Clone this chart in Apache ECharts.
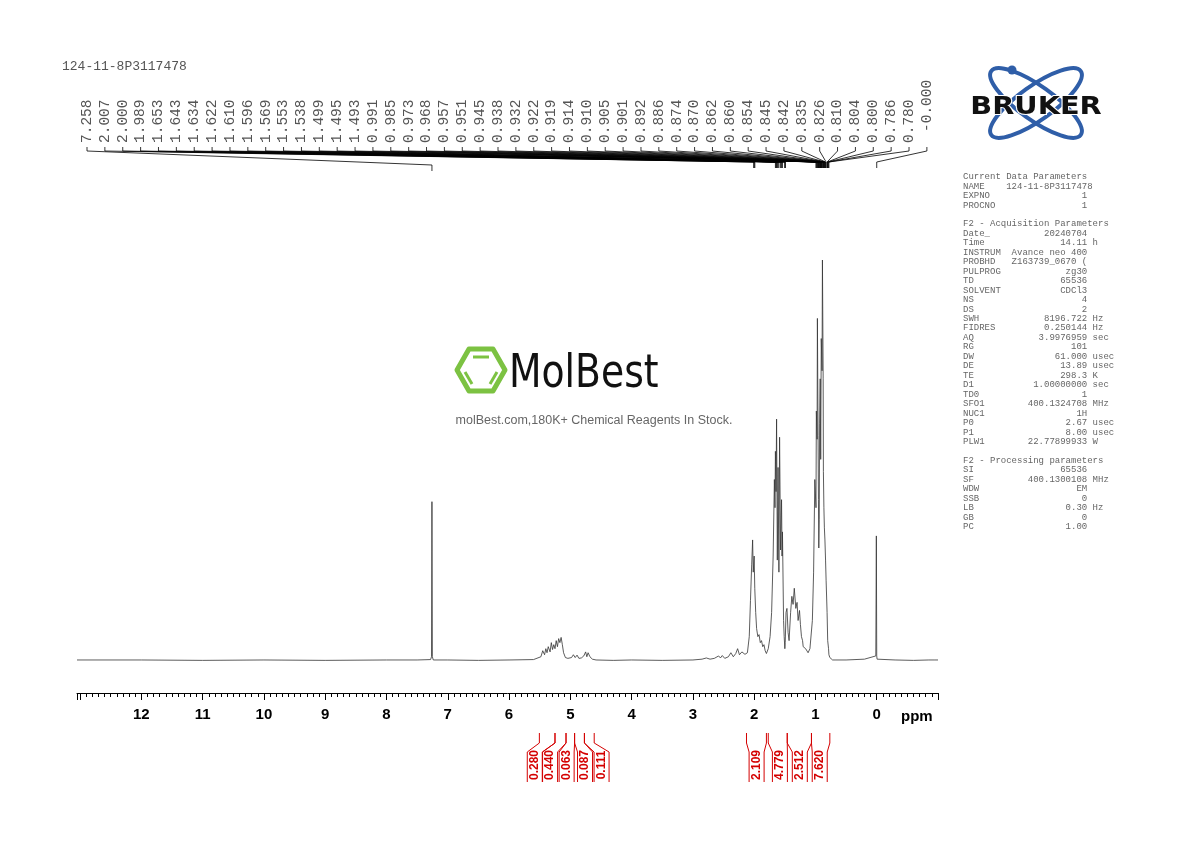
<!DOCTYPE html>
<html>
<head>
<meta charset="utf-8">
<script src="https://cdn.jsdelivr.net/npm/echarts@6/dist/echarts.min.js"></script>
<style>
  html, body { margin: 0; padding: 0; background: #fff; }
  #chart { width: 1190px; height: 842px; }
</style>
</head>
<body>
<div id="chart"></div>
<script>
// spectrum (ppm, relative intensity)
const shiftPpm = [
  13.05, 12.0, 11.0, 10.0, 9.0, 8.0, 7.5, 7.28, 7.265, 7.258, 7.251, 7.236, 7.0, 6.5, 6.0, 5.6,
  5.48, 5.45, 5.42, 5.40, 5.38, 5.36, 5.33, 5.31, 5.29, 5.27, 5.25, 5.23, 5.21, 5.19, 5.17, 5.15, 5.13, 5.11, 5.08, 5.04,
  4.98, 4.95, 4.92, 4.89, 4.86, 4.82, 4.78, 4.75, 4.73, 4.71, 4.68, 4.64, 4.58, 4.3, 4.0, 3.5, 3.0,
  2.85, 2.78, 2.72, 2.65, 2.58, 2.55, 2.52, 2.48, 2.42, 2.38, 2.34, 2.30, 2.27, 2.24, 2.20, 2.15, 2.11,
  2.08, 2.06, 2.04, 2.025, 2.015, 2.00, 1.99, 1.975, 1.96, 1.94, 1.92, 1.90, 1.88, 1.86, 1.84, 1.82, 1.80,
  1.77, 1.74, 1.715, 1.69, 1.67, 1.66, 1.653, 1.643, 1.634, 1.622, 1.61, 1.596, 1.585, 1.569, 1.553, 1.545, 1.538, 1.52, 1.51, 1.499, 1.493, 1.48,
  1.465, 1.446, 1.43, 1.405, 1.385, 1.365, 1.345, 1.32, 1.30, 1.283, 1.26, 1.245, 1.228, 1.21, 1.20, 1.16, 1.12, 1.09,
  1.05, 1.03, 1.01, 0.991, 0.985, 0.973, 0.968, 0.957, 0.951, 0.945, 0.938, 0.932, 0.922, 0.914, 0.905, 0.892, 0.886, 0.874, 0.870,
  0.862, 0.854, 0.845, 0.835, 0.826, 0.81, 0.80, 0.786, 0.78, 0.765, 0.74, 0.72, 0.68, 0.5, 0.2, 0.015, 0.006, 0.0, -0.006, -0.015,
  -0.3, -0.6, -0.85, -0.95, -1.0
];
const intensity = [
  0.002, 0.002, 0.001, 0.002, 0.001, 0.002, 0.002, 0.003, 0.01, 0.395, 0.01, 0.002, 0.002, 0.001, 0.002, 0.003,
  0.01, 0.025, 0.015, 0.03, 0.02, 0.035, 0.022, 0.045, 0.028, 0.04, 0.03, 0.05, 0.035, 0.055, 0.045, 0.058, 0.04, 0.02, 0.008, 0.006,
  0.008, 0.015, 0.008, 0.014, 0.006, 0.007, 0.012, 0.022, 0.01, 0.02, 0.01, 0.004, 0.002, 0.001, 0.002, 0.001, 0.002,
  0.004, 0.007, 0.004, 0.006, 0.012, 0.007, 0.013, 0.006, 0.01, 0.02, 0.01, 0.018, 0.03, 0.015, 0.022, 0.016, 0.02,
  0.06, 0.15, 0.24, 0.30, 0.22, 0.26, 0.18, 0.12, 0.08, 0.06, 0.065, 0.045, 0.05, 0.035, 0.04, 0.025, 0.018,
  0.03, 0.06, 0.12, 0.26, 0.45, 0.38, 0.52, 0.42, 0.60, 0.25, 0.48, 0.22, 0.555, 0.275, 0.40, 0.26, 0.32, 0.10, 0.06, 0.03, 0.045,
  0.12, 0.13, 0.07, 0.05, 0.12, 0.16, 0.14, 0.18, 0.13, 0.145, 0.10, 0.125, 0.09, 0.06, 0.05, 0.035, 0.03, 0.02,
  0.03, 0.10, 0.22, 0.45, 0.38, 0.62, 0.55, 0.85, 0.56, 0.40, 0.28, 0.35, 0.59, 0.70, 0.50, 0.80, 0.72, 0.995, 0.70,
  0.47, 0.38, 0.33, 0.30, 0.25, 0.20, 0.12, 0.05, 0.03, 0.015, 0.008, 0.004, 0.002, 0.002, 0.002, 0.004, 0.012, 0.31, 0.012, 0.004,
  0.002, 0.002, 0.001, 0.002, 0.002, 0.002
];

// peak picking labels
const peakLabels = [
  '7.258', '2.007', '2.000', '1.989', '1.653', '1.643', '1.634', '1.622', '1.610', '1.596', '1.569', '1.553',
  '1.538', '1.499', '1.495', '1.493', '0.991', '0.985', '0.973', '0.968', '0.957', '0.951', '0.945', '0.938',
  '0.932', '0.922', '0.919', '0.914', '0.910', '0.905', '0.901', '0.892', '0.886', '0.874', '0.870', '0.862',
  '0.860', '0.854', '0.845', '0.842', '0.835', '0.826', '0.810', '0.804', '0.800', '0.786', '0.780', '0.000'
];

// integrals: region start/end (ppm), label centre (ppm), value
const integralStart = [5.505, 5.25, 5.07, 4.93, 4.77, 2.125, 1.77, 1.46, 1.065];
const integralEnd = [5.25, 5.07, 4.93, 4.77, 4.61, 1.80, 1.46, 1.065, 0.765];
const integralLabelAt = [5.58, 5.33, 5.06, 4.76, 4.49, 1.96, 1.58, 1.255, 0.93];
const integralValues = ['0.280', '0.440', '0.063', '0.087', '0.111', '2.109', '4.779', '2.512', '7.620'];

const params = [
  ['Current Data Parameters', '', ''],
  ['NAME', '124-11-8P3117478', ''],
  ['EXPNO', '1', ''],
  ['PROCNO', '1', ''],
  ['', '', ''],
  ['F2 - Acquisition Parameters', '', ''],
  ['Date_', '20240704', ''],
  ['Time', '14.11', 'h'],
  ['INSTRUM', 'Avance neo 400', ''],
  ['PROBHD', 'Z163739_0670 (', ''],
  ['PULPROG', 'zg30', ''],
  ['TD', '65536', ''],
  ['SOLVENT', 'CDCl3', ''],
  ['NS', '4', ''],
  ['DS', '2', ''],
  ['SWH', '8196.722', 'Hz'],
  ['FIDRES', '0.250144', 'Hz'],
  ['AQ', '3.9976959', 'sec'],
  ['RG', '101', ''],
  ['DW', '61.000', 'usec'],
  ['DE', '13.89', 'usec'],
  ['TE', '298.3', 'K'],
  ['D1', '1.00000000', 'sec'],
  ['TD0', '1', ''],
  ['SFO1', '400.1324708', 'MHz'],
  ['NUC1', '1H', ''],
  ['P0', '2.67', 'usec'],
  ['P1', '8.00', 'usec'],
  ['PLW1', '22.77899933', 'W'],
  ['', '', ''],
  ['F2 - Processing parameters', '', ''],
  ['SI', '65536', ''],
  ['SF', '400.1300108', 'MHz'],
  ['WDW', 'EM', ''],
  ['SSB', '0', ''],
  ['LB', '0.30', 'Hz'],
  ['GB', '0', ''],
  ['PC', '1.00', '']
];

const spectrum = shiftPpm.map((p, i) => [p, intensity[i]]);
const peakPpm = peakLabels.map(s => parseFloat(s));
const paramText = params.map(([k, v, u]) => {
  if (!v) return k;
  return (k.padEnd(8) + v.padStart(15)) + (u ? ' ' + u : '');
}).join('\n');

const chart = echarts.init(document.getElementById('chart'));
const blue = '#2f5ea8';

const option = {
  animation: false,
  grid: { left: 77, right: 252, top: 258, bottom: 149 },
  xAxis: {
    type: 'value', inverse: true, min: -1, max: 13.05, interval: 1,
    splitLine: { show: false },
    axisLine: { onZero: false, lineStyle: { color: '#000', width: 1 } },
    axisTick: { length: 7, lineStyle: { color: '#000' } },
    minorTick: { show: true, splitNumber: 10, length: 4, lineStyle: { color: '#000' } },
    axisLabel: {
      color: '#000', fontWeight: 'bold', fontSize: 15, fontFamily: 'Liberation Sans, Arial', margin: 14,
      formatter: v => (v >= 0 && v <= 12 ? String(v) : '')
    }
  },
  yAxis: { type: 'value', min: -0.08, max: 1, show: false },
  series: [
    {
      type: 'line', data: spectrum, showSymbol: false, silent: true, clip: false,
      lineStyle: { color: '#333', width: 0.8 }
    },
    {
      // peak labels with their connecting lines
      type: 'custom', clip: false, silent: true,
      data: peakPpm.map((p, i) => [p, i]),
      renderItem: (params, api) => {
        const i = api.value(1);
        const px = api.coord([api.value(0), 0])[0];
        const lx = 87 + i * 17.87;
        const isZero = peakLabels[i] === '0.000';
        const endY = i === 0 ? 168 : 165;
        return {
          type: 'group',
          children: [
            {
              type: 'polyline',
              shape: { points: [[lx, 147], [lx, 151], [px, endY - 3], [px, endY + 3]] },
              style: { stroke: '#000', lineWidth: 0.8, fill: null }
            },
            {
              type: 'text', x: lx, y: isZero ? 132 : 143, rotation: Math.PI / 2,
              style: {
                text: isZero ? '-0.000' : peakLabels[i], align: 'left', verticalAlign: 'middle',
                fontFamily: 'Liberation Mono, DejaVu Sans Mono, monospace', fontSize: 14.5, fill: '#555'
              }
            }
          ]
        };
      }
    },
    {
      // integral brackets
      type: 'custom', clip: false, silent: true,
      data: integralValues.map((v, i) => [integralStart[i], integralEnd[i], integralLabelAt[i]]),
      renderItem: (params, api) => {
        const i = params.dataIndex;
        const x1 = api.coord([api.value(0), 0])[0];
        const x2 = api.coord([api.value(1), 0])[0];
        const xc = api.coord([api.value(2), 0])[0];
        const lw = 7.5;
        const st = { stroke: '#d40000', lineWidth: 1, fill: null };
        return {
          type: 'group',
          children: [
            { type: 'polyline', shape: { points: [[x1, 733], [x1, 743], [xc - lw, 752], [xc - lw, 782]] }, style: st },
            { type: 'polyline', shape: { points: [[x2, 733], [x2, 743], [xc + lw, 752], [xc + lw, 782]] }, style: st },
            {
              type: 'text', x: xc, y: 765, rotation: Math.PI / 2,
              style: {
                text: integralValues[i], align: 'center', verticalAlign: 'middle',
                fontFamily: 'Liberation Sans, Arial', fontWeight: 'bold', fontSize: 12, fill: '#d40000'
              }
            }
          ]
        };
      }
    }
  ],
  graphic: [
    {
      type: 'text', left: 62, top: 60,
      style: { text: '124-11-8P3117478', fontFamily: 'Liberation Mono, monospace', fontSize: 13, fill: '#555' }
    },
    {
      type: 'text', left: 901, top: 709,
      style: { text: 'ppm', fontFamily: 'Liberation Sans, Arial', fontWeight: 'bold', fontSize: 15, fill: '#000' }
    },
    {
      type: 'text', left: 963, top: 172,
      style: { text: paramText, fontFamily: 'Liberation Mono, monospace', fontSize: 9, lineHeight: 9.46, fill: '#666' }
    },
    // Bruker logo
    {
      type: 'ellipse', x: 1036, y: 103, rotation: 0.62,
      shape: { cx: 0, cy: 0, rx: 55, ry: 17 }, style: { stroke: blue, lineWidth: 4, fill: null }
    },
    {
      type: 'ellipse', x: 1036, y: 103, rotation: -0.62,
      shape: { cx: 0, cy: 0, rx: 55, ry: 17 }, style: { stroke: blue, lineWidth: 4, fill: null }
    },
    { type: 'circle', shape: { cx: 1012, cy: 70, r: 4.5 }, style: { fill: blue } },
    {
      type: 'text', x: 1036, y: 107, scaleX: 1.15,
      style: {
        text: 'BRUKER', align: 'center', verticalAlign: 'middle',
        fontFamily: 'DejaVu Sans', fontWeight: 'bold', fontSize: 25, fill: '#111',
        stroke: '#fff', lineWidth: 2
      }
    },
    // MolBest watermark
    {
      type: 'polygon', shape: { points: [[457, 370], [469, 349], [493, 349], [505, 370], [493, 391], [469, 391]] },
      style: { stroke: '#7cc242', lineWidth: 5, fill: null, lineJoin: 'round' }
    },
    { type: 'line', shape: { x1: 473, y1: 357, x2: 489, y2: 357 }, style: { stroke: '#7cc242', lineWidth: 3 } },
    { type: 'line', shape: { x1: 465, y1: 372, x2: 472, y2: 384 }, style: { stroke: '#7cc242', lineWidth: 3 } },
    { type: 'line', shape: { x1: 497, y1: 372, x2: 490, y2: 384 }, style: { stroke: '#7cc242', lineWidth: 3 } },
    {
      type: 'text', x: 509, y: 352, scaleX: 0.82,
      style: { text: 'MolBest', fontFamily: 'DejaVu Sans', fontSize: 46, fill: '#111' }
    },
    {
      type: 'text', x: 594, y: 421,
      style: {
        text: 'molBest.com,180K+ Chemical Reagents In Stock.', align: 'center', verticalAlign: 'middle',
        fontFamily: 'Liberation Sans, Arial', fontSize: 12.5, fill: '#666'
      }
    }
  ]
};

chart.setOption(option);
</script>
</body>
</html>
